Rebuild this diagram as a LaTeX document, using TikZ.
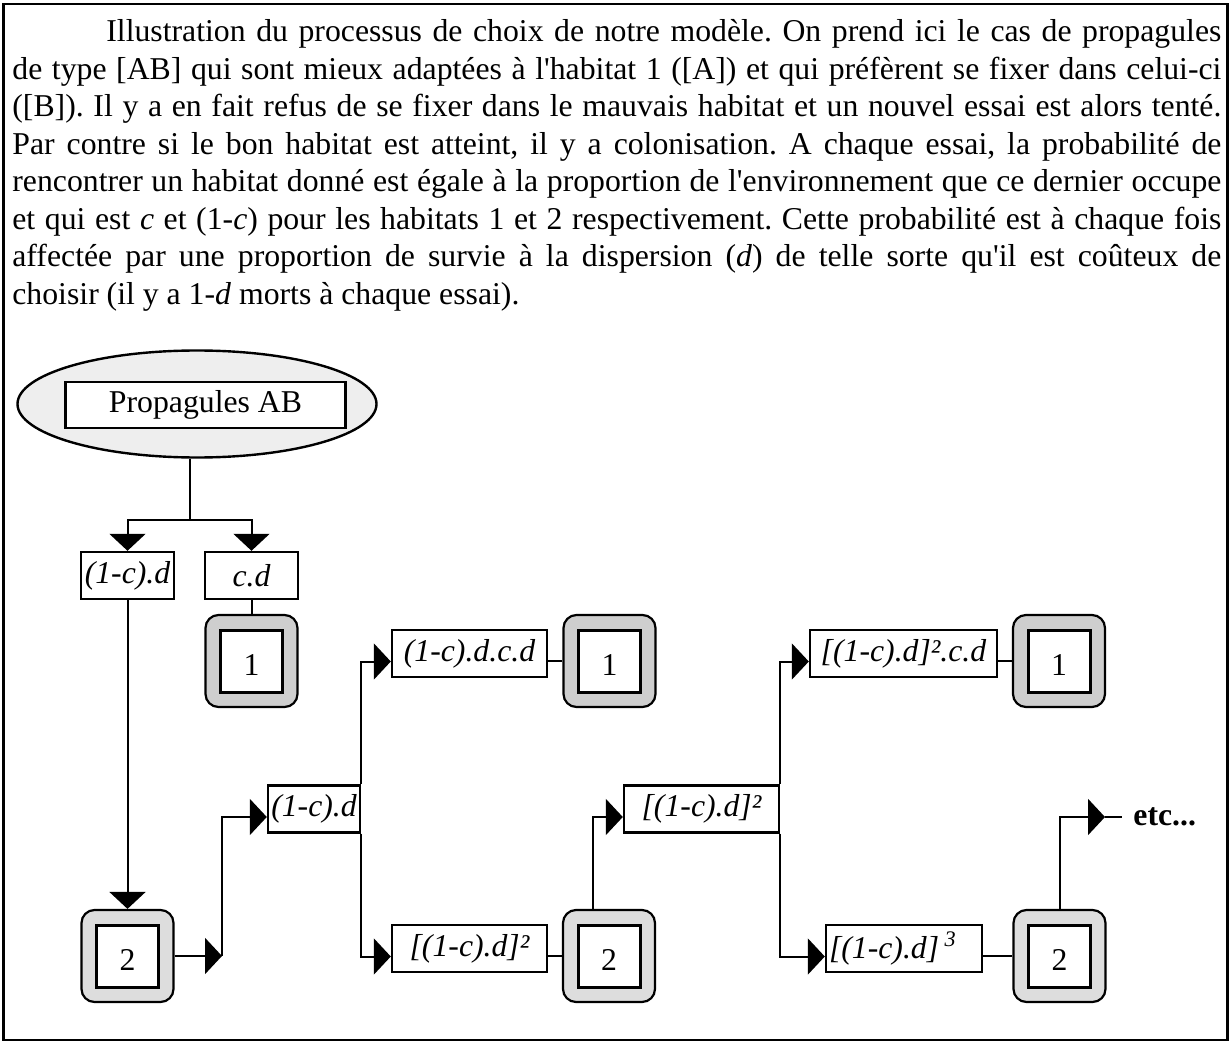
\documentclass[tikz,border=0pt]{standalone}
\usepackage{fontspec}
\setmainfont{Liberation Serif}[Ligatures=TeXOff]
\usetikzlibrary{shapes.geometric,arrows.meta}
\definecolor{ellfill}{RGB}{238,238,238}
\definecolor{habone}{RGB}{206,206,206}
\definecolor{habtwo}{RGB}{221,221,221}
\newcommand{\bodyfnt}{\fontsize{15.875pt}{18.75pt}\selectfont}
\tikzset{
  lbl/.style={draw, line width=1.2pt, fill=white, minimum height=23.5pt, inner sep=0pt, font=\bodyfnt\itshape},
  habout/.style={draw, line width=1.1pt, rounded corners=6.5pt, minimum size=46pt, inner sep=0pt},
  habin/.style={draw, line width=1.5pt, fill=white, minimum size=31pt, inner sep=0pt, font=\bodyfnt, text height=14pt, text depth=0pt},
  conn/.style={line width=1pt},
  arr/.style={conn, -{Triangle[length=8.5pt,width=18pt]}}
}
\begin{document}
\begin{tikzpicture}[x=0.5pt,y=-0.5pt,font=\bodyfnt]
\useasboundingbox (0,0) rectangle (1232,1043);
\draw[line width=1.3pt] (3.5,4) rectangle (1227.5,1040);

\node[anchor=north west, inner sep=0pt, text width=604.5pt, align=justify] (para) at (12,19.5)
{\frenchspacing\tolerance=10000\hyphenpenalty=10000\hspace*{47pt}Illustration du processus de choix de notre modèle. On prend ici le cas de propagules\linebreak
de type [AB] qui sont mieux adaptées à l'habitat 1 ([A]) et qui préfèrent se fixer dans celui-ci\linebreak
([B]). Il y a en fait refus de se fixer dans le mauvais habitat et un nouvel essai est alors tenté.\linebreak
Par contre si le bon habitat est atteint, il y a colonisation. A chaque essai, la probabilité de\linebreak
rencontrer un habitat donné est égale à la proportion de l'environnement que ce dernier occupe\linebreak
et qui est \textit{c} et (1-\textit{c}) pour les habitats 1 et 2 respectivement. Cette probabilité est à chaque fois\linebreak
affectée par une proportion de survie à la dispersion (\textit{d}) de telle sorte qu'il est coûteux de\linebreak
choisir (il y a 1-\textit{d} morts à chaque essai).};

% start
\node[ellipse, draw, line width=1.2pt, fill=ellfill, minimum width=179.5pt, minimum height=53.5pt, inner sep=0pt] (ell) at (197,404) {};
\node[draw, line width=1.3pt, fill=white, minimum width=140pt, minimum height=23pt, inner sep=0pt] (prop) at (205.5,405) {Propagules AB};
\coordinate (j0) at (190,520);

% first level
\node[lbl, minimum width=46.5pt] (a1) at (127.5,575.5) {(1-c).d};
\node[lbl, minimum width=46.5pt] (b1) at (251.5,575.5) {c.d};
\node[habout, fill=habone] (H1a) at (251.5,661) {};
\node[habin] (H1ai) at (H1a) {1};
\node[habout, fill=habtwo] (H2a) at (127.5,956) {};
\node[habin] (H2ai) at (H2a) {2};

% second level
\coordinate (c1) at (222,956);
\node[lbl, minimum width=46pt] (m1) at (314,809) {(1-c).d};
\node[lbl, minimum width=77.5pt] (t1) at (469.5,653.5) {(1-c).d.c.d};
\node[habout, fill=habone] (H1b) at (609.5,661) {};
\node[habin] (H1bi) at (H1b) {1};
\node[lbl, minimum width=77.5pt] (u1) at (469.5,948.5) {[(1-c).d]²};
\node[habout, fill=habtwo] (H2b) at (609,956) {};
\node[habin] (H2bi) at (H2b) {2};

% third level
\node[lbl, minimum width=77.5pt] (m2) at (701.5,809) {[(1-c).d]²};
\node[lbl, minimum width=93.5pt] (t2) at (903.5,653.5) {[(1-c).d]².c.d};
\node[habout, fill=habone] (H1c) at (1059,661) {};
\node[habin] (H1ci) at (H1c) {1};
\node[lbl, text width=75pt, inner xsep=1.5pt, align=left] (u2) at (904,948.5) {[(1-c).d]\,\textsuperscript{3}};
\node[habout, fill=habtwo] (H2c) at (1059.5,956) {};
\node[habin] (H2ci) at (H2c) {2};

\coordinate (e1) at (1105,817);
\coordinate (e2) at (1122,817);
\node[anchor=base west, inner sep=0pt, font=\bodyfnt\bfseries] (etc) at (1133,825) {etc...};

% connectors
\draw[conn] (j0 |- ell.south) -- (j0);
\draw[arr] (j0) -| (a1.north);
\draw[arr] (j0) -| (b1.north);
\draw[conn] (b1.south) -- (H1a.north);
\draw[arr] (a1.south) -- (H2a.north);
\draw[arr] (H2a.east) -- (c1);
\draw[arr] (c1) |- ([yshift=-4pt]m1.west);
\draw[arr] (m1.north east) |- ([yshift=-4pt]t1.west);
\draw[arr] (m1.south east) |- ([yshift=-4pt]u1.west);
\draw[conn] (t1.east |- H1b.west) -- (H1b.west);
\draw[conn] (u1.east |- H2b.west) -- (H2b.west);
\draw[arr] ([xshift=-8pt]H2b.north) |- ([yshift=-4pt]m2.west);
\draw[arr] (m2.north east) |- ([yshift=-4pt]t2.west);
\draw[arr] (m2.south east) |- ([yshift=-4pt]u2.west);
\draw[conn] (t2.east |- H1c.west) -- (H1c.west);
\draw[conn] (u2.east |- H2c.west) -- (H2c.west);
\draw[arr] (H2c.north) |- (e1);
\draw[conn] (e1) -- (e2);
\end{tikzpicture}
\end{document}
